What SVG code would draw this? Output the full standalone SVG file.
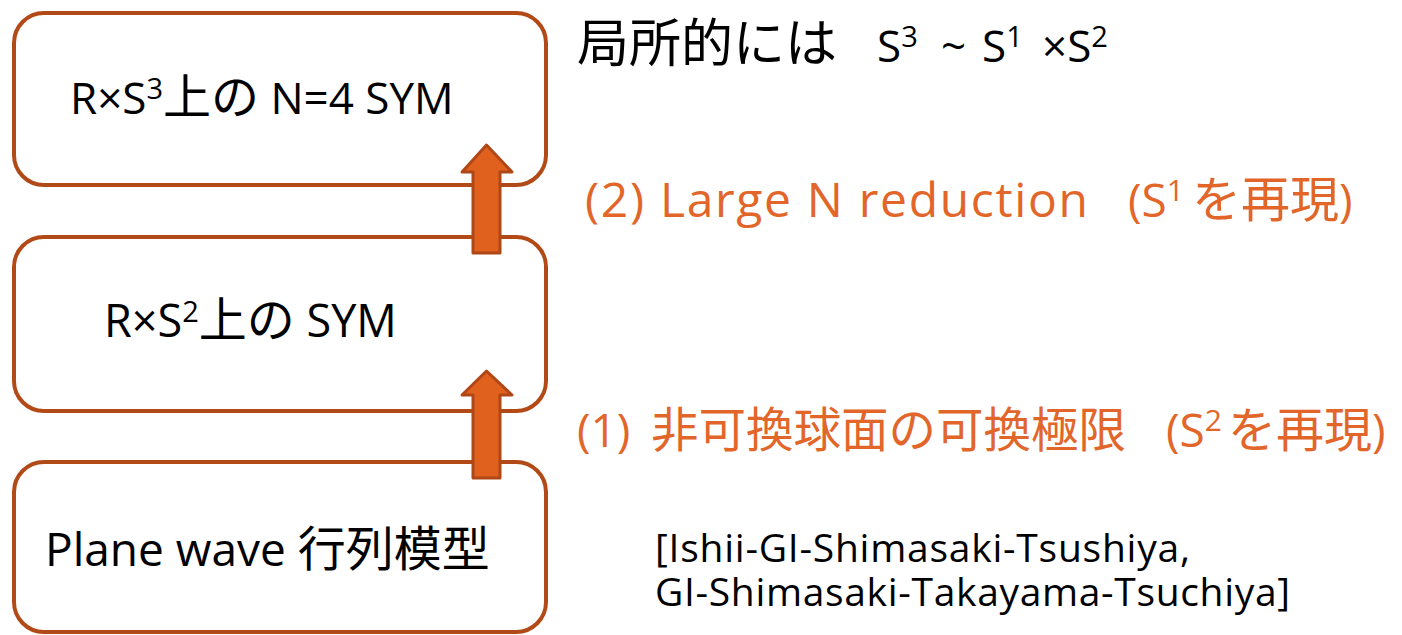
<svg xmlns="http://www.w3.org/2000/svg" width="1402" height="635" viewBox="0 0 1402 635">
<style>
.box{fill:#fff;stroke:#b24a18;stroke-width:4}
.arr{fill:#e0601e;stroke:#b04716;stroke-width:3;stroke-linejoin:round}
text{font-family:"Open Sans","Noto Sans CJK JP",sans-serif}
.k{fill:#000}
.o{fill:#e2662a}
.j{font-family:"Noto Sans CJK JP",sans-serif}
</style>
<rect width="1402" height="635" fill="#fff"/>
<g id="node-sym4">
<rect class="box" x="14" y="13" width="532" height="172" rx="30"/>
<text class="k" x="70" y="114" font-size="44">R×S<tspan font-size="29" dy="-15">3</tspan><tspan dy="15" class="j" font-size="48">上の</tspan><tspan> N=4 SYM</tspan></text>
</g>
<g id="node-sym2">
<rect class="box" x="14" y="237" width="532" height="174" rx="30"/>
<text class="k" x="104" y="337" font-size="45">R×S<tspan font-size="29" dy="-15">2</tspan><tspan dy="15" class="j" font-size="48">上の</tspan><tspan> SYM</tspan></text>
</g>
<g id="node-pw">
<rect class="box" x="14" y="462" width="532" height="170" rx="30"/>
<text class="k" x="45" y="566" font-size="46">Plane wave <tspan class="j" font-size="48">行列模型</tspan></text>
</g>
<g id="connectors">
<path class="arr" d="M486.5 145 L512 172 L500 172 L500 253 L473 253 L473 172 L462 172 Z"/>
<path class="arr" d="M486.5 371 L512 395 L500 395 L500 478 L473 478 L473 395 L462 395 Z"/>
</g>
<g id="labels">
<text class="k" y="62" font-size="44"><tspan x="577" class="j" font-size="52">局所的には</tspan><tspan x="877">S</tspan><tspan font-size="29" dy="-15">3</tspan><tspan dy="15" x="941">~</tspan><tspan x="982">S</tspan><tspan font-size="29" dy="-15">1</tspan><tspan dy="15" x="1042">×S</tspan><tspan font-size="29" dy="-15">2</tspan></text>
<text class="o" x="585" y="217" font-size="48" textLength="503" lengthAdjust="spacing">(2) Large N reduction</text>
<text class="o" y="217" font-size="46"><tspan x="1128">(S</tspan><tspan font-size="30" dy="-16">1</tspan><tspan dy="16" x="1192" class="j" font-size="49">を再現</tspan><tspan>)</tspan></text>
<text class="o" y="447" font-size="46"><tspan x="577">(1)</tspan><tspan x="651" class="j" font-size="47.5">非可換球面の可換極限</tspan><tspan x="1166">(S</tspan><tspan font-size="30" dy="-16">2</tspan><tspan dy="16" x="1228" class="j" font-size="48">を再現</tspan><tspan>)</tspan></text>
<text class="k" font-size="39"><tspan x="655" y="562" textLength="535" lengthAdjust="spacing">[Ishii-GI-Shimasaki-Tsushiya,</tspan><tspan x="655" y="606" textLength="635" lengthAdjust="spacing">GI-Shimasaki-Takayama-Tsuchiya]</tspan></text>
</g>
</svg>
